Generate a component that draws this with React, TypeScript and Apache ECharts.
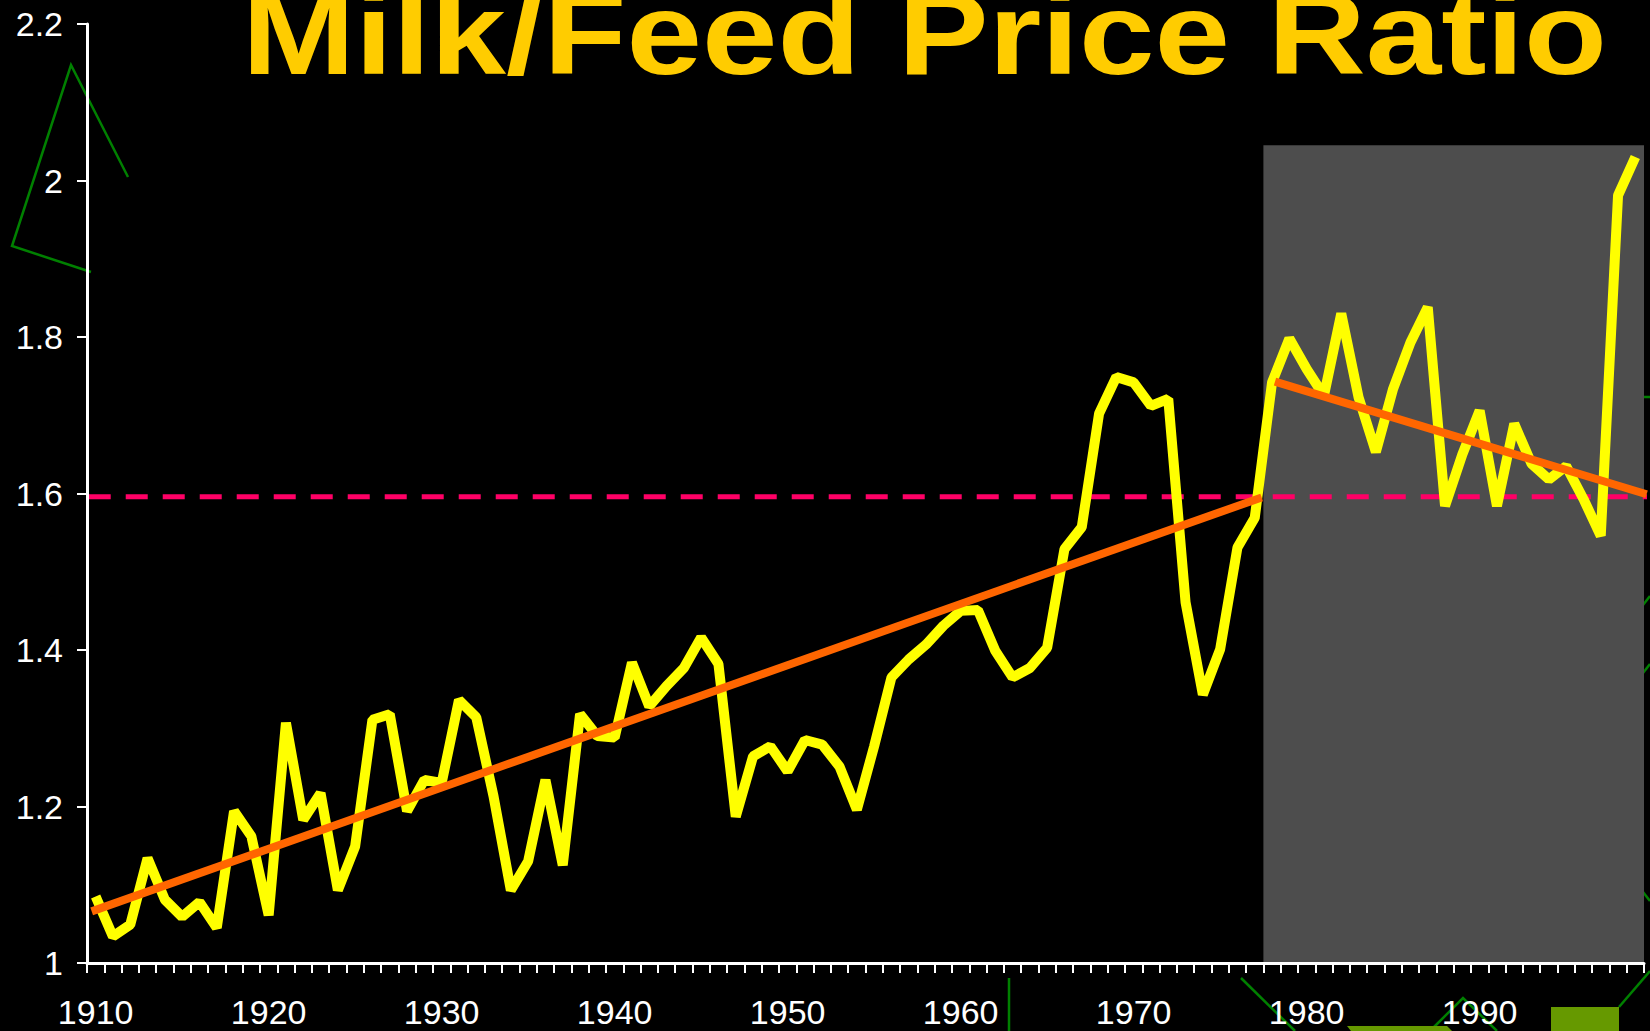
import React, { useEffect, useRef } from "react";
import * as echarts from "echarts";

// ---- data ----
const START_YEAR = 1910;
const ratio: number[] = [
  1.085, 1.034, 1.049, 1.134, 1.081, 1.059, 1.078, 1.045, 1.194, 1.162, // 1910s
  1.061, 1.307, 1.183, 1.217, 1.093, 1.149, 1.311, 1.318, 1.194, 1.234, // 1920s
  1.230, 1.336, 1.314, 1.213, 1.093, 1.130, 1.234, 1.125, 1.318, 1.290, // 1930s
  1.288, 1.384, 1.328, 1.354, 1.377, 1.416, 1.382, 1.187, 1.264, 1.277, // 1940s
  1.245, 1.285, 1.279, 1.251, 1.196, 1.277, 1.365, 1.388, 1.407, 1.431, // 1950s
  1.450, 1.451, 1.399, 1.365, 1.377, 1.403, 1.529, 1.557, 1.702, 1.749, // 1960s
  1.742, 1.712, 1.721, 1.461, 1.343, 1.401, 1.531, 1.569, 1.742, 1.798, // 1970s
  1.759, 1.725, 1.830, 1.723, 1.653, 1.734, 1.793, 1.838, 1.584, 1.650, // 1980s
  1.706, 1.584, 1.689, 1.638, 1.618, 1.635, 1.593, 1.546, 1.981, 2.030, // 1990s
];
const years: string[] = ratio.map((_, i) => String(START_YEAR + i));

// trend lines, in "year slots" from the start of the axis (one slot per year)
const trendEarly: number[][] = [[0.27, 1.066], [67.9, 1.595]];
const trendLate: number[][] = [[68.67, 1.743], [90.15, 1.599]];
const averageLevel = 1.596;
const averageSpan: number[] = [0.1, 91.6];
const shadedFrom = 68; // slot of 1978
const shadedTo = 90;
const shadedTop = 2.045;

const Y_MIN = 1;
const Y_MAX = 2.2;
const Y_STEP = 0.2;
const TITLE = "Milk/Feed Price Ratio";

const FONT = '"Liberation Sans", Arial, sans-serif';

export default function App() {
  const ref = useRef<HTMLDivElement>(null);

  useEffect(() => {
    if (!ref.current) return;
    const chart = echarts.init(ref.current, null, { renderer: "svg" });
    const green = "#008000";
    const olive = "#669900";

    const option: any = {
      animation: false,
      backgroundColor: "#000000",
      grid: { left: 87, right: 6, top: 24, bottom: 68, containLabel: false },
      xAxis: [
        {
          type: "category",
          data: years,
          boundaryGap: true,
          z: 5,
          axisLine: { show: true, lineStyle: { color: "#ffffff", width: 3 } },
          axisTick: {
            show: true,
            interval: 0,
            length: 10,
            lineStyle: { color: "#ffffff", width: 2 },
          },
          axisLabel: {
            interval: 9,
            margin: 32,
            color: "#ffffff",
            fontSize: 34,
            fontFamily: FONT,
          },
          splitLine: { show: false },
        },
        {
          type: "value",
          min: 0,
          max: years.length,
          show: false,
        },
      ],
      yAxis: {
        type: "value",
        min: Y_MIN,
        max: Y_MAX,
        interval: Y_STEP,
        z: 5,
        axisLine: { show: true, lineStyle: { color: "#ffffff", width: 3 } },
        axisTick: { show: true, length: 10, lineStyle: { color: "#ffffff", width: 2 } },
        axisLabel: {
          margin: 24,
          color: "#ffffff",
          fontSize: 34,
          fontFamily: FONT,
          formatter: (v: number) => String(Math.round(v * 10) / 10),
        },
        splitLine: { show: false },
      },
      series: [
        {
          name: "shade",
          type: "line",
          xAxisIndex: 1,
          data: [[shadedFrom, Y_MIN]],
          symbol: "none",
          lineStyle: { width: 0 },
          silent: true,
          clip: false,
          markArea: {
            silent: true,
            itemStyle: { color: "#4D4D4D" },
            data: [[{ coord: [shadedFrom, shadedTop] }, { coord: [shadedTo, Y_MIN] }]],
          },
        },
        {
          name: "average",
          type: "line",
          xAxisIndex: 1,
          data: averageSpan.map((x) => [x, averageLevel]),
          symbol: "none",
          clip: false,
          silent: true,
          z: 2,
          lineStyle: { color: "#FF0066", width: 5, type: [22, 15] },
        },
        {
          name: "ratio",
          type: "line",
          xAxisIndex: 0,
          data: ratio,
          symbol: "none",
          silent: true,
          z: 3,
          lineStyle: { color: "#FFFF00", width: 10, join: "bevel" },
        },
        {
          name: "trendEarly",
          type: "line",
          xAxisIndex: 1,
          data: trendEarly,
          symbol: "none",
          clip: false,
          silent: true,
          z: 4,
          lineStyle: { color: "#FF6600", width: 8, cap: "butt" },
        },
        {
          name: "trendLate",
          type: "line",
          xAxisIndex: 1,
          data: trendLate,
          symbol: "none",
          clip: false,
          silent: true,
          z: 4,
          lineStyle: { color: "#FF6600", width: 8, cap: "butt" },
        },
      ],
      graphic: [
        {
          type: "text",
          x: 242,
          y: 33,
          scaleX: 1.16,
          z: 10,
          style: {
            text: TITLE,
            fill: "#FFCC00",
            fontSize: 117,
            fontWeight: "bold",
            fontFamily: FONT,
            verticalAlign: "middle",
            align: "left",
          },
        },
        {
          type: "polyline",
          z: 1,
          shape: { points: [[128, 177], [71, 65], [12, 246], [91, 272]] },
          style: { stroke: green, lineWidth: 2.5, fill: null },
        },
        {
          type: "line",
          shape: { x1: 1009, y1: 978, x2: 1009, y2: 1031 },
          style: { stroke: green, lineWidth: 2.5 },
        },
        {
          type: "line",
          shape: { x1: 1241, y1: 978, x2: 1295, y2: 1031 },
          style: { stroke: green, lineWidth: 2.5 },
        },
        {
          type: "polyline",
          shape: { points: [[1434, 1027], [1463, 998], [1497, 1031]] },
          style: { stroke: green, lineWidth: 2.5, fill: null },
        },
        {
          type: "polygon",
          shape: { points: [[1347, 1026], [1447, 1026], [1452, 1031], [1351, 1031]] },
          style: { fill: olive },
        },
        {
          type: "rect",
          shape: { x: 1551, y: 1007, width: 68, height: 24 },
          style: { fill: olive },
        },
        {
          type: "line",
          shape: { x1: 1619, y1: 1007, x2: 1650, y2: 971 },
          style: { stroke: green, lineWidth: 2.5 },
        },
        {
          type: "line",
          shape: { x1: 1644, y1: 397, x2: 1650, y2: 397 },
          style: { stroke: green, lineWidth: 2.5 },
        },
        {
          type: "line",
          shape: { x1: 1643, y1: 605, x2: 1650, y2: 596 },
          style: { stroke: green, lineWidth: 2.5 },
        },
        {
          type: "line",
          shape: { x1: 1643, y1: 673, x2: 1650, y2: 664 },
          style: { stroke: green, lineWidth: 2.5 },
        },
        {
          type: "line",
          shape: { x1: 1643, y1: 892, x2: 1650, y2: 901 },
          style: { stroke: green, lineWidth: 2.5 },
        },
      ],
    };

    chart.setOption(option);
    return () => {
      chart.dispose();
    };
  }, []);

  return (
    <div
      ref={ref}
      style={{
        position: "fixed",
        left: 0,
        top: 0,
        width: 1650,
        height: 1031,
        background: "#000000",
      }}
    />
  );
}
